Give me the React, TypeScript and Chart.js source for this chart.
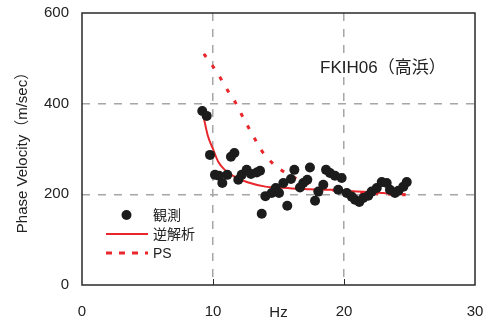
import React, { useEffect, useRef } from 'react';
import { Chart, registerables } from 'chart.js';
Chart.register(...registerables);

const obsFreq = [9.18, 9.52, 9.77, 10.15, 10.46, 10.71, 11.09, 11.37, 11.63, 11.93, 12.19, 12.57, 12.9, 13.34, 13.59, 13.72, 14.0, 14.48, 14.79, 15.04, 15.37, 15.67, 15.95, 16.21, 16.64, 16.89, 17.2, 17.4, 17.79, 18.04, 18.42, 18.63, 18.93, 19.31, 19.56, 19.82, 20.21, 20.59, 20.84, 21.17, 21.47, 21.85, 22.11, 22.5, 22.88, 23.26, 23.51, 23.89, 24.15, 24.53, 24.79];
const obsVel = [384, 373, 287, 243, 241, 225, 243, 283, 291, 232, 243, 254, 245, 248, 252, 157, 196, 203, 214, 203, 225, 175, 234, 254, 215, 225, 232, 259, 186, 206, 221, 254, 247, 241, 210, 236, 203, 195, 188, 183, 192, 197, 206, 214, 227, 225, 210, 203, 208, 217, 227];

const invFreq = [9.25, 9.6, 10.0, 10.4, 10.9, 11.7, 12.7, 14.0, 15.0, 16.0, 17.0, 18.0, 19.0, 20.0, 21.0, 22.0, 23.0, 24.0, 24.7];
const invVel = [375, 330, 300, 272, 254, 238, 226, 217, 215, 213, 212, 210, 210, 208, 206, 205, 203, 201, 200];

const psFreq = [9.3, 10.0, 10.6, 11.1, 11.7, 12.2, 12.7, 13.2, 13.7, 14.5, 15.5, 16.5, 17.4, 18.4, 19.5, 21.0, 23.0, 24.7];
const psVel = [510, 482, 455, 430, 403, 375, 348, 322, 297, 270, 248, 233, 223, 213, 208, 204, 201, 199];

const xTickValues = [0, 10, 20, 30];
const yTickValues = [0, 200, 400, 600];
const stationLabel = 'FKIH06（高浜）';
const legendLabels = ['観測', '逆解析', 'PS'];
const xTitle = 'Hz';
const yTitle = 'Phase Velocity（m/sec）';

const FONT = '"Liberation Sans", Arial, "Noto Sans CJK JP", sans-serif';
const RED = '#e8262b';
const DOT = '#1c1c1c';
const TEXT = '#222222';

const zeroPad = (s: any) => {
  s.paddingTop = 0;
  s.paddingBottom = 0;
  s.paddingLeft = 0;
  s.paddingRight = 0;
};

const decorPlugin = {
  id: 'decor',
  afterDraw(chart: any) {
    const { ctx, chartArea } = chart;
    const { left, top, right, bottom } = chartArea;
    const xs = chart.scales.x;
    ctx.save();
    // frame
    ctx.strokeStyle = '#2a2a2a';
    ctx.lineWidth = 1.5;
    ctx.setLineDash([]);
    ctx.strokeRect(left, top, right - left, bottom - top);
    // inner tick marks on x axis
    ctx.lineWidth = 1;
    for (const v of xTickValues) {
      if (v === xs.min || v === xs.max) continue;
      const px = Math.round(xs.getPixelForValue(v)) + 0.5;
      ctx.beginPath();
      ctx.moveTo(px, bottom);
      ctx.lineTo(px, bottom - 6);
      ctx.stroke();
    }
    // station label
    ctx.fillStyle = TEXT;
    ctx.font = `17px ${FONT}`;
    ctx.textBaseline = 'middle';
    ctx.textAlign = 'left';
    ctx.fillText(stationLabel, left + 238, top + 55);
    // legend
    const lx = left + 24;
    const lw = 42;
    const tx = left + 71;
    const rows = [top + 202, top + 221, top + 240];
    ctx.font = `14px ${FONT}`;
    // dot
    ctx.fillStyle = DOT;
    ctx.beginPath();
    ctx.arc(lx + lw / 2 - 0.5, rows[0], 5, 0, Math.PI * 2);
    ctx.fill();
    // solid
    ctx.strokeStyle = RED;
    ctx.lineWidth = 2;
    ctx.beginPath();
    ctx.moveTo(lx, rows[1]);
    ctx.lineTo(lx + lw, rows[1]);
    ctx.stroke();
    // dashed
    ctx.lineWidth = 3;
    ctx.setLineDash([6, 7]);
    ctx.beginPath();
    ctx.moveTo(lx, rows[2]);
    ctx.lineTo(lx + lw, rows[2]);
    ctx.stroke();
    ctx.setLineDash([]);
    ctx.fillStyle = TEXT;
    legendLabels.forEach((t, i) => ctx.fillText(t, tx, rows[i] + 1));
    ctx.restore();
  },
};

export default function App() {
  const ref = useRef<HTMLCanvasElement | null>(null);
  useEffect(() => {
    if (!ref.current) return;
    const chart = new Chart(ref.current, {
      type: 'scatter',
      data: {
        datasets: [
          {
            label: legendLabels[0],
            data: obsFreq.map((x, i) => ({ x, y: obsVel[i] })),
            backgroundColor: DOT,
            borderColor: DOT,
            pointRadius: 5,
            borderWidth: 0,
            showLine: false,
          },
          {
            label: legendLabels[1],
            data: invFreq.map((x, i) => ({ x, y: invVel[i] })),
            borderColor: RED,
            borderWidth: 2,
            pointRadius: 0,
            showLine: true,
            cubicInterpolationMode: 'monotone',
          },
          {
            label: legendLabels[2],
            data: psFreq.map((x, i) => ({ x, y: psVel[i] })),
            borderColor: RED,
            borderWidth: 3,
            borderDash: [4, 10],
            pointRadius: 0,
            showLine: true,
            cubicInterpolationMode: 'monotone',
          },
        ],
      },
      options: {
        responsive: false,
        animation: false,
        events: [],
        layout: { padding: { top: 13, right: 20, bottom: 0, left: 0 } },
        plugins: { legend: { display: false }, tooltip: { enabled: false } },
        scales: {
          x: {
            type: 'linear',
            min: 0,
            max: 30,
            afterBuildTicks: (s: any) => { s.ticks = xTickValues.map((v) => ({ value: v })); },
            afterFit: (s: any) => { s.height = 39; zeroPad(s); },
            border: { display: false, dash: [8, 8] },
            grid: {
              drawTicks: false,
              color: (c: any) => (c.tick && (c.tick.value === 0 || c.tick.value === 30) ? 'rgba(0,0,0,0)' : '#a6a6a6'),
              lineWidth: 1.5,
            },
            ticks: { color: TEXT, font: { family: FONT, size: 15 }, padding: 18, maxRotation: 0 },
            title: { display: true, text: xTitle, color: TEXT, font: { family: FONT, size: 15 }, padding: { top: 0, bottom: 2 } },
          },
          y: {
            type: 'linear',
            min: 0,
            max: 600,
            afterBuildTicks: (s: any) => { s.ticks = yTickValues.map((v) => ({ value: v })); },
            afterFit: (s: any) => { s.width = 82; zeroPad(s); },
            border: { display: false, dash: [8, 8] },
            grid: {
              drawTicks: false,
              color: (c: any) => (c.tick && (c.tick.value === 0 || c.tick.value === 600) ? 'rgba(0,0,0,0)' : '#a6a6a6'),
              lineWidth: 1.5,
            },
            ticks: { color: TEXT, font: { family: FONT, size: 15 }, padding: 13 },
            title: { display: true, text: yTitle, color: TEXT, font: { family: FONT, size: 15 }, padding: { top: 14, bottom: 0 } },
          },
        },
      },
      plugins: [decorPlugin],
    } as any);
    return () => chart.destroy();
  }, []);
  return (
    <div style={{ position: 'fixed', left: 0, top: 0, width: 495, height: 324, background: '#fff' }}>
      <canvas ref={ref} width={495} height={324} />
    </div>
  );
}
